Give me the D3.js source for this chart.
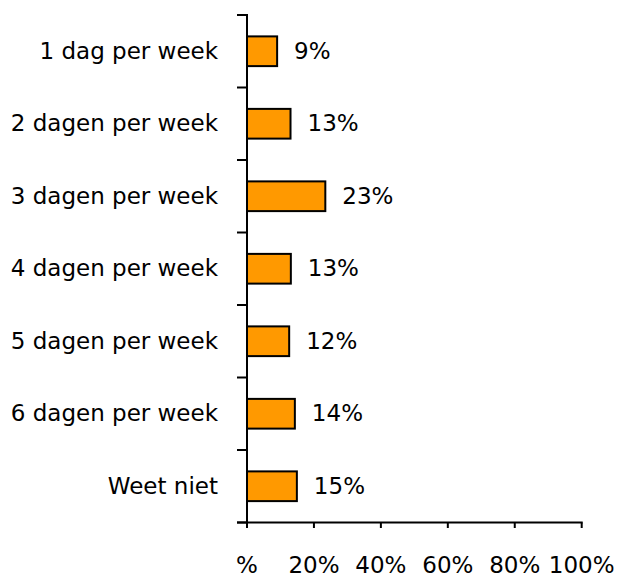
<!DOCTYPE html>
<html>
<head>
<meta charset="utf-8">
<script src="https://cdn.jsdelivr.net/npm/d3@7"></script>
<style>
  html, body { margin: 0; padding: 0; background: #fff; }
  svg { display: block; }
  text { font-family: "DejaVu Sans", Verdana, sans-serif; fill: #000; }
</style>
</head>
<body>
<script>
const categories = ["1 dag per week", "2 dagen per week", "3 dagen per week", "4 dagen per week", "5 dagen per week", "6 dagen per week", "Weet niet"];
const values = [9.0, 13.0, 23.4, 13.1, 12.6, 14.3, 14.9];
const valueLabels = ["9%", "13%", "23%", "13%", "12%", "14%", "15%"];
const xTicks = [0, 20, 40, 60, 80, 100];
const xTickLabels = ["%", "20%", "40%", "60%", "80%", "100%"];

const W = 619, H = 578;
const svg = d3.select("body").append("svg").attr("width", W).attr("height", H);

const x = d3.scaleLinear().domain([0, 100]).range([247, 581.7]);
const y = d3.scaleBand().domain(categories).range([15, 522.5]).paddingInner(0.59).paddingOuter(0.295);
const yBand = d3.scaleBand().domain(categories).range([15, 522.5]);

// bars
svg.append("g").selectAll("rect").data(categories).join("rect")
  .attr("x", x(0))
  .attr("y", d => y(d))
  .attr("width", (d, i) => x(values[i]) - x(0))
  .attr("height", y.bandwidth())
  .attr("fill", "#FF9900")
  .attr("stroke", "#000")
  .attr("stroke-width", 2);

// y axis line and band ticks
const ax = svg.append("g").attr("stroke", "#000").attr("stroke-width", 2);
ax.append("line").attr("x1", x(0)).attr("x2", x(0)).attr("y1", 14).attr("y2", 523.5);
const bandEdges = categories.map(c => yBand(c)).concat([yBand.range()[1]]);
ax.selectAll("line.yt").data(bandEdges).join("line").attr("class", "yt")
  .attr("x1", x(0) - 10).attr("x2", x(0)).attr("y1", d => d).attr("y2", d => d);

// x axis line and ticks
ax.append("line").attr("x1", x(0) - 10).attr("x2", x(100) + 1).attr("y1", 522.5).attr("y2", 522.5);
ax.selectAll("line.xt").data(xTicks).join("line").attr("class", "xt")
  .attr("x1", d => x(d)).attr("x2", d => x(d)).attr("y1", 522.5).attr("y2", 528);

// category labels
svg.append("g").selectAll("text").data(categories).join("text")
  .attr("x", 218)
  .attr("y", d => yBand(d) + yBand.bandwidth() / 2)
  .attr("dy", "0.33em")
  .attr("text-anchor", "end")
  .attr("font-size", 23)
  .text(d => d);

// value labels
svg.append("g").selectAll("text").data(categories).join("text")
  .attr("x", (d, i) => x(values[i]) + 17)
  .attr("y", d => yBand(d) + yBand.bandwidth() / 2)
  .attr("dy", "0.33em")
  .attr("text-anchor", "start")
  .attr("font-size", 23)
  .text((d, i) => valueLabels[i]);

// x tick labels
svg.append("g").selectAll("text").data(xTicks).join("text")
  .attr("x", d => x(d))
  .attr("y", 573)
  .attr("text-anchor", "middle")
  .attr("font-size", 23)
  .text((d, i) => xTickLabels[i]);
</script>
</body>
</html>
